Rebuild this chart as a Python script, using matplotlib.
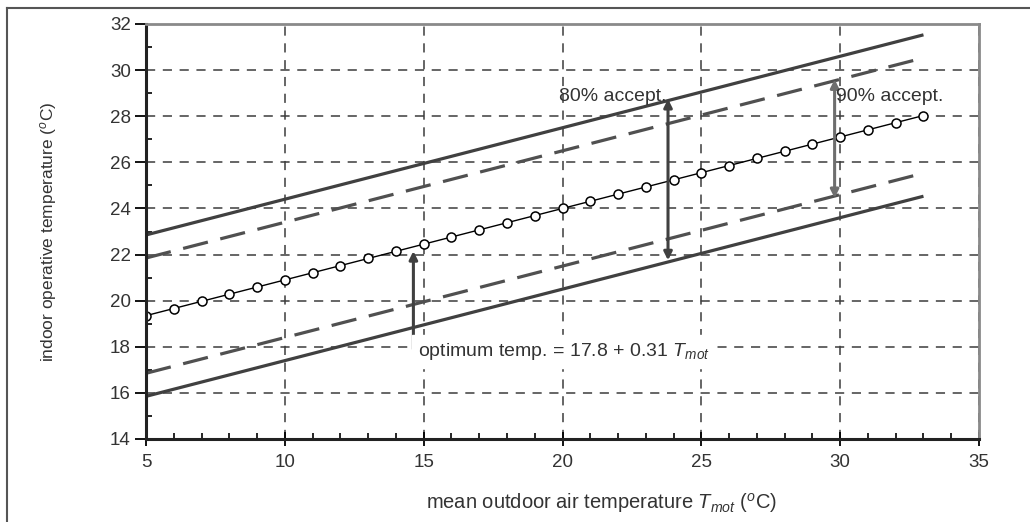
from matplotlib import pyplot as plt
from matplotlib.lines import Line2D
import numpy as np

plt.rcParams['font.family'] = ['Liberation Sans', 'DejaVu Sans']
plt.rcParams['mathtext.fontset'] = 'custom'
plt.rcParams['mathtext.rm'] = 'Liberation Sans'
plt.rcParams['mathtext.it'] = 'Liberation Sans:italic'

# optimum comfort temperature, one point per degree of T_mot
t_mot = [5, 6, 7, 8, 9, 10, 11, 12, 13, 14, 15, 16, 17, 18, 19,
         20, 21, 22, 23, 24, 25, 26, 27, 28, 29, 30, 31, 32, 33]
t_opt = [19.35, 19.66, 19.97, 20.28, 20.59, 20.90, 21.21, 21.52, 21.83, 22.14,
         22.45, 22.76, 23.07, 23.38, 23.69, 24.00, 24.31, 24.62, 24.93, 25.24,
         25.55, 25.86, 26.17, 26.48, 26.79, 27.10, 27.41, 27.72, 28.03]

# acceptability limits (end points)
lim_x = [5, 33]
up80 = [22.85, 31.53]
up90 = [21.85, 30.53]
lo90 = [16.85, 25.53]
lo80 = [15.85, 24.53]

# arrows: x, y from, y to
arr80 = [23.8, 21.75, 28.75]
arr90 = [29.8, 24.45, 29.6]
arr_opt = [14.63, 17.9, 22.15]

xticks = [5, 10, 15, 20, 25, 30, 35]
yticks = [14, 16, 18, 20, 22, 24, 26, 28, 30, 32]

fig = plt.figure(figsize=(10.3, 5.22), dpi=100)
ax = fig.add_axes([146/1030, 1-439/522, (979-146)/1030, (439-24)/522])

gc = '#3c3c3c'
ax.grid(True, which='major', color=gc, linestyle=(0, (6, 5)), linewidth=1.1)
ax.set_axisbelow(True)

ax.plot(lim_x, up80, color='#404040', lw=2.3, solid_capstyle='butt')
ax.plot(lim_x, lo80, color='#404040', lw=2.3, solid_capstyle='butt')
ax.plot(lim_x, up90, color='#505050', lw=2.3, linestyle=(0, (8, 4)))
ax.plot(lim_x, lo90, color='#505050', lw=2.3, linestyle=(0, (8, 4)))
ax.plot(t_mot, t_opt, color='black', lw=1.0, marker='o', markersize=6.5,
        markerfacecolor='white', markeredgecolor='black', markeredgewidth=1.1)

ax.annotate('', xy=(arr80[0], arr80[2]), xytext=(arr80[0], arr80[1]),
            arrowprops=dict(arrowstyle='<|-|>', color='#404040', lw=2.2,
                            mutation_scale=12, shrinkA=0, shrinkB=0))
ax.annotate('', xy=(arr90[0], arr90[2]), xytext=(arr90[0], arr90[1]),
            arrowprops=dict(arrowstyle='<|-|>', color='#6e6e6e', lw=2.2,
                            mutation_scale=12, shrinkA=0, shrinkB=0))
ax.annotate('', xy=(arr_opt[0], arr_opt[2]), xytext=(arr_opt[0], arr_opt[1]),
            arrowprops=dict(arrowstyle='-|>', color='#404040', lw=2.2,
                            mutation_scale=12, shrinkA=0, shrinkB=0))

tc = '#333333'
ax.text(23.75, 28.85, '80% accept.', ha='right', va='center', fontsize=14, color=tc)
ax.text(29.85, 28.85, '90% accept.', ha='left', va='center', fontsize=14, color=tc)
ax.text(14.8, 17.8, 'optimum temp. = 17.8 + 0.31 $T_{mot}$', ha='left', va='center',
        fontsize=14, color=tc, backgroundcolor='white')

ax.set_xlim(5, 35)
ax.set_ylim(14, 32)
ax.set_xticks(xticks)
ax.set_yticks(yticks)
ax.set_xticks(np.arange(5, 36, 1), minor=True)
ax.set_yticks(np.arange(14, 33, 1), minor=True)
ax.tick_params(axis='x', which='major', direction='inout', length=10, width=1.3,
               labelsize=13.5, labelcolor=tc, pad=6)
ax.tick_params(axis='x', which='minor', direction='in', length=4, width=1.2)
ax.tick_params(axis='y', which='major', direction='out', length=8, width=1.3,
               labelsize=13.5, labelcolor=tc, pad=3)
ax.tick_params(axis='y', which='minor', direction='in', length=4, width=1.2)

for s in ['left', 'bottom']:
    ax.spines[s].set_linewidth(2.2)
    ax.spines[s].set_color('#222222')
for s in ['top', 'right']:
    ax.spines[s].set_linewidth(2.0)
    ax.spines[s].set_color('#8a8a8a')

ax.set_xlabel('mean outdoor air temperature $T_{mot}$ ($^{o}$C)', fontsize=14.5,
              color=tc, labelpad=12)
ax.xaxis.set_label_coords(0.547, -0.125)
ax.set_ylabel('indoor operative temperature ($^{o}$C)', fontsize=12.5,
              color=tc)
ax.yaxis.set_label_coords(-0.105, 0.5)

# outer frame (only top and left edges visible)
fig.add_artist(Line2D([7/1030, 1], [1-8/522, 1-8/522], color='#555555', lw=1.5))
fig.add_artist(Line2D([7/1030, 7/1030], [0, 1-8/522], color='#555555', lw=1.5))

plt.savefig('out.png', dpi=100)
